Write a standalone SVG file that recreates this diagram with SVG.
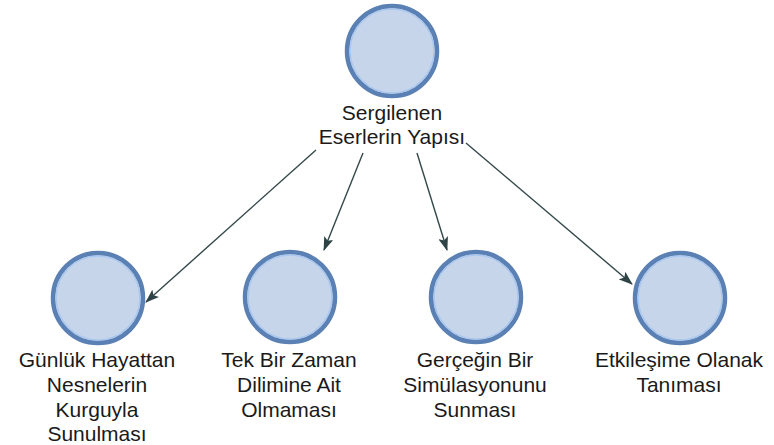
<svg xmlns="http://www.w3.org/2000/svg" width="774" height="445" viewBox="0 0 774 445">
  <style>
    .ring { fill: #c6d5ea; stroke: #5b80b3; stroke-width: 4.5; }
    .inner { fill: none; stroke: #a9c7ef; stroke-width: 1.6; }
    .label { font-family: "Liberation Sans", Arial, sans-serif; font-size: 21px; fill: #1a1a1a; text-anchor: middle; }
    .edge { stroke: #34484a; stroke-width: 1.4; fill: none; marker-end: url(#arrow); }
  </style>
  <defs>
    <marker id="arrow" viewBox="0 0 14 10" refX="13" refY="5" markerWidth="14" markerHeight="10" markerUnits="userSpaceOnUse" orient="auto">
      <path d="M0,0 L14,5 L0,10 L3,5 Z" fill="#2e4346"/>
    </marker>
  </defs>
  <rect width="774" height="445" fill="#ffffff"/>

  <g id="connectors">
    <line class="edge" x1="316" y1="150" x2="146" y2="302"/>
    <line class="edge" x1="363" y1="153" x2="324" y2="250"/>
    <line class="edge" x1="417" y1="153" x2="447" y2="250"/>
    <line class="edge" x1="466" y1="143" x2="632" y2="284"/>
  </g>

  <g id="node-root">
    <circle class="ring" cx="392" cy="51" r="45"/>
    <circle class="inner" cx="392" cy="51" r="42"/>
    <text class="label" x="392" y="120">Sergilenen</text>
    <text class="label" x="392" y="144">Eserlerin Yapısı</text>
  </g>

  <g id="node-gunluk">
    <circle class="ring" cx="98" cy="298" r="45"/>
    <circle class="inner" cx="98" cy="298" r="42"/>
    <text class="label" x="97" y="367">Günlük Hayattan</text>
    <text class="label" x="97" y="392">Nesnelerin</text>
    <text class="label" x="97" y="417">Kurguyla</text>
    <text class="label" x="97" y="441">Sunulması</text>
  </g>

  <g id="node-zaman">
    <circle class="ring" cx="290" cy="297" r="45"/>
    <circle class="inner" cx="290" cy="297" r="42"/>
    <text class="label" x="289" y="367">Tek Bir Zaman</text>
    <text class="label" x="289" y="392">Dilimine Ait</text>
    <text class="label" x="289" y="417">Olmaması</text>
  </g>

  <g id="node-simulasyon">
    <circle class="ring" cx="476" cy="297" r="45"/>
    <circle class="inner" cx="476" cy="297" r="42"/>
    <text class="label" x="475" y="367">Gerçeğin Bir</text>
    <text class="label" x="475" y="392">Simülasyonunu</text>
    <text class="label" x="475" y="417">Sunması</text>
  </g>

  <g id="node-etkilesim">
    <circle class="ring" cx="680" cy="298" r="45"/>
    <circle class="inner" cx="680" cy="298" r="42"/>
    <text class="label" x="679" y="367">Etkileşime Olanak</text>
    <text class="label" x="679" y="392">Tanıması</text>
  </g>
</svg>
